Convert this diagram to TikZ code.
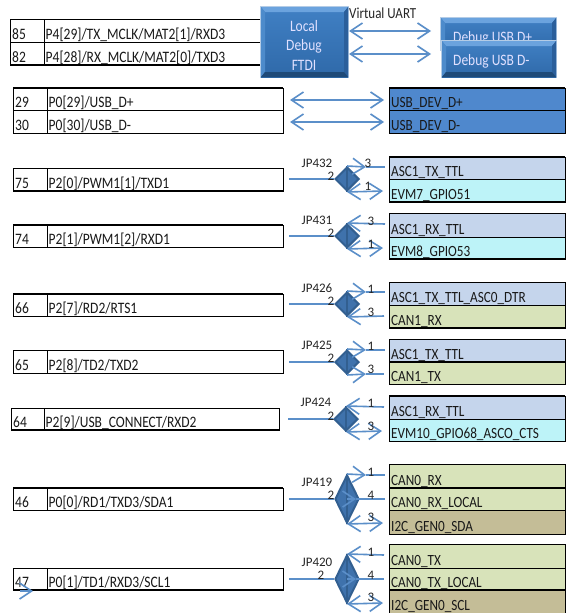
\documentclass[tikz,border=0pt]{standalone}
\usepackage{fontspec}
\setmainfont{Carlito}
\usetikzlibrary{arrows.meta,shapes.geometric}
\definecolor{wirec}{HTML}{5B8FC9}
\definecolor{dia}{HTML}{3F72AC}
\definecolor{diad}{HTML}{325F90}
\definecolor{cASC}{HTML}{C5D5EC}
\definecolor{cEVM}{HTML}{BDF3F8}
\definecolor{cCAN}{HTML}{D8E3BA}
\definecolor{cI2C}{HTML}{C4BD97}
\definecolor{cUSB}{HTML}{4F88CD}
\definecolor{bvO}{HTML}{B4CCE6}
\definecolor{bvT}{HTML}{6BA3DE}
\definecolor{bvL}{HTML}{4D8BCB}
\definecolor{bvR}{HTML}{2B5F9B}
\definecolor{bvB}{HTML}{1F4A78}
\definecolor{bvA}{HTML}{4080C4}
\definecolor{bvC}{HTML}{2F69A9}
\newcommand\vs[1]{\scalebox{1}[1.18]{#1}}
\tikzset{
 x=1pt,y=-1pt,
 txt/.style={anchor=base west,inner sep=0pt,font=\fontsize{13.5}{13.5}\selectfont,text=black!90},
 rtxt/.style={anchor=base west,inner sep=0pt,font=\fontsize{13.2}{13.2}\selectfont,text=black!90},
 jl/.style={anchor=base,inner sep=0pt,font=\fontsize{13}{13}\selectfont,text=black!85},
 cell/.style={draw=black,line width=0.9pt,anchor=north west,inner sep=0pt,outer sep=0pt},
 wire/.style={draw=wirec,line width=1.6pt},
 tip/.tip={Straight Barb[length=12pt,width=16pt,line width=1.6pt]},
 jdia/.style={diamond,draw=diad,fill=dia,line width=2pt,inner sep=0pt,aspect=1},
 wtxt/.style={anchor=base,inner sep=0pt,font=\fontsize{13.5}{13.5}\selectfont,text=white!88!blue},
}
\newcommand\cellbox[6]{\node[cell,fill=#6,minimum width=#4-#2,minimum height=#5-#3] (#1) at (#2,#3) {};}
\newcommand\pinrow[8]{%
 \node[cell,minimum width=#4-#2,minimum height=#6-#5] (#1) at (#2,#5) {};
 \draw[line width=0.9pt] (#3,#5) -- (#3,#6);
 \node[txt] (#1n) at (#2+2,#6-3) {\vs{#7}};
 \node[txt] (#1t) at (#3+1.5,#6-3) {\vs{#8}};}
\newcommand\sig[5]{%
 \cellbox{#1}{389}{#2}{565}{#3}{#4}
 \node[rtxt] (#1t) at (391,#3-3) {\vs{#5}};}
\newcommand\bevel[4]{%
 \fill[bvO] (#1-1,#2-1) rectangle (#3+1,#4+1);
 \shade[top color=bvA,bottom color=bvC] (#1,#2) rectangle (#3,#4);
 \fill[bvT] (#1,#2) -- (#3,#2) -- (#3-4,#2+5) -- (#1+4,#2+5) -- cycle;
 \fill[bvL] (#1,#2) -- (#1+4,#2+5) -- (#1+4,#4-5) -- (#1,#4) -- cycle;
 \fill[bvR] (#3,#2) -- (#3-4,#2+5) -- (#3-4,#4-5) -- (#3,#4) -- cycle;
 \fill[bvB] (#1,#4) -- (#1+4,#4-5) -- (#3-4,#4-5) -- (#3,#4) -- cycle;}
\newcommand\jump[5]{%
 \coordinate (#1in) at (#5,#3);
 \node[jdia,minimum width=24pt,minimum height=#4] (#1) at (#2,#3) {};
 \draw[wire] (#1in) -- (#1.west);
 \draw[diad,line width=1.5pt] (#1.north) -- (#1.south);}
\newcommand\brR[5]{%
 \draw[wire,-{tip}] (#1) -- (#3,#5) coordinate (#2a);
 \draw[wire] (#2a) -- (#4,#5) coordinate (#2e);}
\newcommand\brL[4]{\draw[wire,{tip}-] (#1) -- (#3,#4) coordinate (#2e);}
\newcommand\brD[4]{\draw[wire,{tip}-{tip}] (#1) -- (#3,#4) coordinate (#2e);}
\newcommand\jt[3]{\node[jl] (#1) at #2 {#3};}
\begin{document}
\begin{tikzpicture}
\useasboundingbox (0,0) rectangle (572,613);
\fill[white] (0,0) rectangle (572,613);
\pinrow{a}{10}{44}{262}{19}{42}{85}{P4[29]/TX\_MCLK/MAT2[1]/RXD3}
\pinrow{b}{10}{44}{262}{42}{65}{82}{P4[28]/RX\_MCLK/MAT2[0]/TXD3}
\pinrow{c}{13}{47}{283}{88}{110}{29}{P0[29]/USB\_D+}
\pinrow{d}{13}{47}{283}{110}{133}{30}{P0[30]/USB\_D-}
\pinrow{e}{13}{47}{283}{168}{191}{75}{P2[0]/PWM1[1]/TXD1}
\pinrow{f}{13}{47}{283}{225}{247}{74}{P2[1]/PWM1[2]/RXD1}
\pinrow{g}{13}{47}{283}{294}{316}{66}{P2[7]/RD2/RTS1}
\pinrow{h}{13}{47}{283}{350}{373}{65}{P2[8]/TD2/TXD2}
\pinrow{i}{11}{44}{279}{408}{430}{64}{P2[9]/USB\_CONNECT/RXD2}
\pinrow{j}{13}{47}{283}{488}{510}{46}{P0[0]/RD1/TXD3/SDA1}
\pinrow{k}{13}{47}{283}{568}{590}{47}{P0[1]/TD1/RXD3/SCL1}
\draw[line width=1.6pt] (10,65) -- (262,65) (13,88) -- (283,88) (13,191) -- (283,191) (13,225) -- (283,225) (13,294) -- (283,294) (11,430) -- (279,430) (13,488) -- (283,488) (13,590) -- (283,590);
\coordinate (s1) at (20,591);
\coordinate (s2) at (33,591);
\draw[wire,-{tip}] (s1) -- (s2);
\bevel{261}{7}{348}{77}
\node[wtxt] (l1) at (304,31) {\vs{Local}};
\node[wtxt] (l2) at (304,50) {\vs{Debug}};
\node[wtxt] (l3) at (304,70) {\vs{FTDI}};
\bevel{441}{18}{556}{50}
\node[wtxt,anchor=base west] (du) at (453,42) {\vs{Debug USB D+}};
\bevel{442}{41}{556}{77}
\node[wtxt,anchor=base west] (dd) at (453,65) {\vs{Debug USB D-}};
\node[jl,anchor=base west] (vu) at (349,19) {\vs{Virtual UART}};
\coordinate (u1) at (349,31); \coordinate (u2) at (431,31);
\coordinate (u3) at (349,54); \coordinate (u4) at (431,54);
\draw[wire,{tip}-{tip}] (u1) -- (u2);
\draw[wire,{tip}-{tip}] (u3) -- (u4);
\coordinate (v1) at (290,100); \coordinate (v2) at (384,100);
\coordinate (v3) at (290,122); \coordinate (v4) at (384,122);
\draw[wire,{tip}-{tip}] (v1) -- (v2);
\draw[wire,{tip}-{tip}] (v3) -- (v4);
\sig{s1a}{88}{110}{cUSB}{USB\_DEV\_D+}
\sig{s1b}{110}{133}{cUSB}{USB\_DEV\_D-}
\sig{s2a}{157}{179}{cASC}{ASC1\_TX\_TTL}
\sig{s2b}{179}{202}{cEVM}{EVM7\_GPIO51}
\sig{s3a}{213}{237}{cASC}{ASC1\_RX\_TTL}
\sig{s3b}{237}{259}{cEVM}{EVM8\_GPIO53}
\sig{s4a}{282}{305}{cASC}{ASC1\_TX\_TTL\_ASC0\_DTR}
\sig{s4b}{305}{328}{cCAN}{CAN1\_RX}
\sig{s5a}{339}{362}{cASC}{ASC1\_TX\_TTL}
\sig{s5b}{362}{384}{cCAN}{CAN1\_TX}
\sig{s6a}{396}{419}{cASC}{ASC1\_RX\_TTL}
\sig{s6b}{419}{441}{cEVM}{EVM10\_GPIO68\_ASCO\_CTS}
\sig{s7a}{464}{488}{cCAN}{CAN0\_RX}
\sig{s7b}{488}{510}{cCAN}{CAN0\_RX\_LOCAL}
\sig{s7c}{510}{534}{cI2C}{I2C\_GEN0\_SDA}
\sig{s8a}{544}{568}{cCAN}{CAN0\_TX}
\sig{s8b}{568}{590}{cCAN}{CAN0\_TX\_LOCAL}
\sig{s8c}{590}{613}{cI2C}{I2C\_GEN0\_SCL}
\draw[line width=1.6pt] (389,88) -- (565,88) (389,157) -- (565,157) (389,202) -- (565,202) (389,259) -- (565,259) (389,328) -- (565,328) (389,362) -- (565,362) (389,396) -- (565,396) (389,488) -- (565,488) (389,590) -- (565,590);
\jump{J1}{347}{179}{24pt}{289}
\brR{J1.north}{J1t}{366}{385}{167}
\brD{J1.south}{J1b}{383}{191}
\jump{J2}{347}{236}{24pt}{289}
\brL{J2.north}{J2t}{385}{224}
\brD{J2.south}{J2b}{383}{248}
\jump{J3}{347}{304}{24pt}{289}
\brR{J3.north}{J3t}{366}{385}{292}
\brL{J3.south}{J3b}{384}{316}
\jump{J4}{347}{362}{24pt}{289}
\brR{J4.north}{J4t}{366}{385}{350}
\brR{J4.south}{J4b}{366}{384}{374}
\jump{J5}{346}{419}{24pt}{288}
\brL{J5.north}{J5t}{384}{407}
\brD{J5.south}{J5b}{382}{431}
\jump{J6}{347}{499}{48pt}{289}
\brR{J6.north}{J6t}{366}{385}{475}
\brR{J6.center}{J6m}{356}{385}{499}
\brD{J6.south}{J6b}{383}{523}
\jump{J7}{347}{579}{48pt}{289}
\brL{J7.north}{J7t}{384}{555}
\brR{J7.center}{J7m}{356}{384}{579}
\brD{J7.south}{J7b}{383}{603}
\jt{p1}{(317,167)}{JP432}\jt{q1}{(331,180)}{2}\jt{r1}{(368,167)}{3}\jt{t1}{(368,190)}{1}
\jt{p2}{(317,224)}{JP431}\jt{q2}{(331,237)}{2}\jt{r2}{(371,225)}{3}\jt{t2}{(371,248)}{1}
\jt{p3}{(317,292)}{JP426}\jt{q3}{(331,305)}{2}\jt{r3}{(371,293)}{1}\jt{t3}{(371,316)}{3}
\jt{p4}{(317,349)}{JP425}\jt{q4}{(331,362)}{2}\jt{r4}{(371,350)}{1}\jt{t4}{(371,373)}{3}
\jt{p5}{(316,406)}{JP424}\jt{q5}{(331,420)}{2}\jt{r5}{(371,407)}{1}\jt{t5}{(371,430)}{3}
\jt{p6}{(317,486)}{JP419}\jt{q6}{(331,499)}{2}\jt{r6}{(371,476)}{1}\jt{m6}{(371,499)}{4}\jt{t6}{(371,521)}{3}
\jt{p7}{(317,566)}{JP420}\jt{q7}{(321,579)}{2}\jt{r7}{(371,556)}{1}\jt{m7}{(371,579)}{4}\jt{t7}{(371,601)}{3}
\end{tikzpicture}
\end{document}
